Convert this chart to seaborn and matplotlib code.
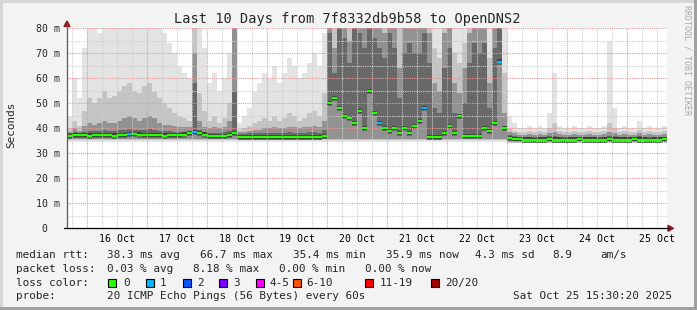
import numpy as np
import matplotlib
matplotlib.use("Agg")
import matplotlib.pyplot as plt
from matplotlib.patches import Rectangle, Polygon
from matplotlib.lines import Line2D
import seaborn as sns

W, H = 697, 310

# ---------------- data (2-hour bins, 10 days = 120 bins) ----------------
bin_hours = 2.0

median_ms = [
    37.0, 37.2, 37.3, 37.2, 37.1, 37.2, 37.3, 37.4, 37.2, 37.1,
    37.3, 37.2, 37.6, 37.8, 37.5, 37.3, 37.2, 37.4, 37.2, 37.1,
    37.3, 37.2, 37.4, 37.5, 38.0, 38.5, 38.0, 37.5, 37.0, 36.8,
    36.9, 37.0, 37.2, 38.2, 36.6, 36.5, 36.6, 36.5, 36.6, 36.5,
    36.6, 36.5, 36.6, 36.5, 36.6, 36.6, 36.5, 36.6, 36.5, 36.6,
    36.5, 37.0, 50.0, 52.0, 48.0, 45.0, 44.0, 42.0, 47.0, 40.0,
    55.0, 46.0, 42.0, 40.0, 39.0, 40.0, 38.0, 40.0, 38.0, 41.0,
    43.0, 48.0, 36.5, 36.4, 36.5, 38.0, 41.0, 38.0, 45.0, 37.0,
    36.9, 36.9, 37.0, 40.0, 39.0, 42.0, 66.7, 40.0, 36.2, 35.8,
    35.6, 35.5, 35.5, 35.4, 35.5, 35.5, 35.6, 35.5, 35.5, 35.4,
    35.5, 35.5, 35.6, 35.5, 35.5, 35.5, 35.4, 35.5, 35.6, 35.5,
    35.5, 35.5, 35.5, 35.6, 35.5, 35.5, 35.4, 35.5, 35.5, 35.6,
]

# lost pings (of 20) for each bin
loss_count = [
    0, 0, 0, 0, 0, 0, 0, 0, 0, 0,
    0, 0, 1, 0, 0, 0, 0, 0, 0, 0,
    0, 0, 0, 0, 0, 1, 0, 0, 0, 0,
    0, 0, 0, 0, 0, 0, 0, 0, 0, 0,
    0, 0, 0, 0, 0, 0, 0, 0, 0, 0,
    0, 0, 0, 0, 0, 0, 0, 0, 0, 0,
    0, 0, 1, 0, 0, 0, 0, 0, 0, 0,
    0, 1, 0, 0, 0, 0, 0, 0, 0, 0,
    0, 0, 0, 0, 0, 0, 1, 0, 0, 0,
    0, 0, 0, 0, 0, 0, 0, 0, 0, 0,
    0, 0, 0, 0, 0, 0, 0, 0, 0, 0,
    0, 0, 0, 0, 0, 0, 0, 0, 0, 0,
]

smoke_max = [
    45, 60, 52, 72, 80, 80, 78, 80, 80, 80,
    80, 80, 80, 80, 80, 80, 80, 80, 80, 78,
    74, 70, 65, 62, 60, 80, 80, 72, 58, 62,
    55, 60, 70, 80, 42, 45, 48, 55, 58, 62,
    60, 65, 58, 62, 68, 65, 60, 62, 66, 70,
    65, 78, 80, 80, 80, 80, 80, 80, 80, 80,
    80, 80, 80, 80, 80, 80, 80, 80, 80, 80,
    80, 80, 80, 80, 80, 80, 80, 80, 80, 80,
    80, 80, 80, 80, 80, 80, 80, 80, 45, 42,
    40, 40, 41, 40, 41, 40, 46, 62, 41, 40,
    40, 41, 40, 40, 41, 40, 40, 41, 75, 48,
    40, 41, 40, 40, 43, 40, 41, 40, 40, 41,
]

smoke_p90 = [
    40, 43, 41, 47, 52, 50, 52, 55, 52, 53,
    55, 57, 58, 55, 54, 57, 58, 55, 52, 50,
    48, 46, 45, 44, 43, 80, 54, 47, 43, 45,
    42, 44, 50, 80, 39.5, 40, 41, 42, 43, 44,
    43, 45, 43, 44, 46, 45, 43, 44, 46, 47,
    45, 54, 80, 80, 80, 80, 80, 80, 80, 80,
    80, 80, 80, 80, 80, 80, 80, 80, 80, 80,
    80, 80, 80, 72, 68, 80, 80, 70, 66, 74,
    80, 80, 80, 80, 68, 80, 80, 62, 40, 39,
    38.5, 38.5, 39, 38.5, 39, 38.5, 40, 42, 39, 38.5,
    38.5, 39, 38.5, 38.5, 39, 38.5, 38.5, 39, 42, 40,
    38.5, 39, 38.5, 38.5, 39.5, 38.5, 39, 38.5, 38.5, 39,
]

smoke_p75 = [
    38.5, 40, 39, 41, 42, 41.5, 42, 43, 42, 42,
    43, 44, 45, 44, 43, 44, 45, 44, 42, 41.5,
    41.5, 41, 40.5, 40.5, 40.5, 70, 43, 40.5, 40, 40.5,
    40, 40.5, 43, 80, 38.5, 38.5, 39, 39.5, 39.5, 40,
    40, 40.5, 40, 40, 40.5, 40.5, 40, 40.5, 40.5, 41,
    40.5, 43, 80, 72, 80, 80, 75, 80, 80, 80,
    80, 80, 80, 78, 80, 80, 64, 80, 80, 80,
    80, 80, 78, 58, 55, 78, 80, 58, 54, 64,
    78, 80, 80, 80, 58, 80, 80, 46, 38.5, 38,
    37.5, 37.5, 37.8, 37.5, 37.8, 37.5, 38, 38.5, 37.8, 37.5,
    37.5, 37.8, 37.5, 37.5, 37.8, 37.5, 37.5, 37.8, 38.5, 38,
    37.5, 37.8, 37.5, 37.5, 38, 37.5, 37.8, 37.5, 37.5, 37.8,
]

smoke_p60 = [
    38, 38.5, 38.2, 38.6, 39, 38.8, 39, 39.2, 39, 39,
    39.2, 39.4, 39.6, 39.4, 39.2, 39.4, 39.6, 39.4, 39, 38.8,
    38.8, 38.6, 38.6, 38.5, 39, 58, 39.5, 38.6, 38.3, 38.3,
    38.3, 38.5, 39, 55, 37.8, 37.8, 38, 38, 38.2, 38.2,
    38.2, 38.3, 38.2, 38.2, 38.4, 38.3, 38.2, 38.3, 38.4, 38.4,
    38.3, 39.5, 78, 62, 80, 76, 66, 80, 78, 72,
    80, 76, 72, 68, 78, 72, 52, 70, 74, 70,
    70, 78, 66, 48, 46, 64, 72, 46, 44, 50,
    66, 74, 70, 74, 48, 72, 80, 41, 37.3, 37,
    36.6, 36.6, 36.7, 36.6, 36.7, 36.6, 36.8, 37, 36.7, 36.6,
    36.6, 36.7, 36.6, 36.6, 36.7, 36.6, 36.6, 36.7, 37, 36.8,
    36.6, 36.7, 36.6, 36.6, 36.8, 36.6, 36.7, 36.6, 36.6, 36.7,
]

smoke_min = [35.0] * 88 + [34.0] * 32

day_labels = ["16 Oct", "17 Oct", "18 Oct", "19 Oct", "20 Oct",
              "21 Oct", "22 Oct", "23 Oct", "24 Oct", "25 Oct"]
day_noon_hours = [20, 44, 68, 92, 116, 140, 164, 188, 212, 236]
midnight_hours = [8, 32, 56, 80, 104, 128, 152, 176, 200, 224]
y_ticks = [0, 10, 20, 30, 40, 50, 60, 70, 80]
y_tick_labels = ["0  ", "10 m", "20 m", "30 m", "40 m", "50 m", "60 m", "70 m", "80 m"]

loss_names = ["0", "1", "2", "3", "4-5", "6-10", "11-19", "20/20"]
loss_colors = ["#26ff00", "#00b8ff", "#0059ff", "#7e00ff", "#ff00ff",
               "#ff5500", "#ff0000", "#a10000"]

title = "Last 10 Days from 7f8332db9b58 to OpenDNS2"
stats_rtt = ["median rtt:", "38.3 ms avg", "66.7 ms max", "35.4 ms min",
             "35.9 ms now", "4.3 ms sd", "8.9", "am/s"]
stats_loss = ["packet loss:", "0.03 % avg", "8.18 % max", "0.00 % min", "0.00 % now"]
probe_text = ["probe:", "20 ICMP Echo Pings (56 Bytes) every 60s", "Sat Oct 25 15:30:20 2025"]

# ---------------- style ----------------
sns.set_style("white")
plt.rcParams["font.family"] = ["DejaVu Sans Mono"]
MONO = "DejaVu Sans Mono"

fig = plt.figure(figsize=(W / 100, H / 100), dpi=100)
fig.patch.set_facecolor("#f3f3f3")

AX_L, AX_R, AX_T, AX_B = 67, 667, 28.3, 228.3
ax = fig.add_axes([AX_L / W, 1 - AX_B / H, (AX_R - AX_L) / W, (AX_B - AX_T) / H])
ax.set_facecolor("white")

n = len(median_ms)
edges = np.arange(n + 1) * bin_hours
centers = (np.arange(n) + 0.5) * bin_hours


def ext(v):
    v = np.asarray(v, dtype=float)
    return np.append(v, v[-1])


med = np.asarray(median_ms, dtype=float)
lo = np.asarray(smoke_min, dtype=float)

layers = [
    (ext(lo), ext(smoke_max), "#e3e3e3"),
    (ext(lo + 0.3), ext(smoke_p90), "#c4c4c4"),
    (ext(lo + 0.6), ext(smoke_p75), "#929292"),
    (ext(med - 1.2), ext(smoke_p60), "#686868"),
    (ext(med - 0.7), ext(med + 0.9), "#3c3c3c"),
]
for y0, y1, c in layers:
    ax.fill_between(edges, y0, np.minimum(y1, 80), step="post", color=c,
                    linewidth=0, zorder=1)

# grid (drawn on top of smoke, like rrdtool)
for h in np.arange(2, 240, 6):
    if h in midnight_hours:
        continue
    ax.axvline(h, color="#cfcfcf", lw=0.8, ls=(0, (1, 1)), zorder=3)
for v in range(5, 80, 10):
    ax.axhline(v, color="#cfcfcf", lw=0.8, ls=(0, (1, 1)), zorder=3)
for h in midnight_hours:
    ax.axvline(h, color="#e59a9a", lw=0.8, ls=(0, (1, 1)), zorder=3.1)
for v in y_ticks[1:]:
    ax.axhline(v, color="#e59a9a", lw=0.8, ls=(0, (1, 1)), zorder=3.1)

# median rtt, coloured by loss
loss_lbl = [loss_names[1] if c == 1 else loss_names[0] for c in loss_count]
pal = {loss_names[0]: loss_colors[0], loss_names[1]: loss_colors[1]}
sns.scatterplot(x=centers, y=med, hue=loss_lbl, palette=pal, marker="_",
                s=16, linewidth=1.6, legend=False, ax=ax, zorder=5)

ax.set_xlim(0, 240)
ax.set_ylim(0, 80)
for s in ax.spines.values():
    s.set_visible(False)

ax.set_xticks(day_noon_hours)
ax.set_xticklabels(day_labels)
ax.set_xticks(midnight_hours, minor=True)
ax.tick_params(axis="x", which="major", length=0, pad=4.2, labelsize=7.1, colors="black")
ax.tick_params(axis="x", which="minor", length=2, color="#e59a9a", direction="out")
ax.set_yticks(y_ticks)
ax.set_yticklabels(y_tick_labels)
ax.tick_params(axis="y", which="major", length=2, color="#e59a9a", pad=3.0,
               labelsize=7.1, direction="out")
for t in ax.get_xticklabels() + ax.get_yticklabels():
    t.set_fontfamily(MONO)


def fx(x):
    return x / W


def fy(y):
    return 1 - y / H


# axis lines with arrows
fig.add_artist(Line2D([fx(67), fx(67)], [fy(228.3), fy(24)], color="#5a5a5a", lw=0.9))
fig.add_artist(Line2D([fx(64), fx(669)], [fy(228.3), fy(228.3)], color="black", lw=0.9))
fig.add_artist(Polygon([(fx(67), fy(21)), (fx(64), fy(26.5)), (fx(70), fy(26.5))],
                       closed=True, color="#8b1a1a", transform=fig.transFigure))
fig.add_artist(Polygon([(fx(673.5), fy(228.3)), (fx(668), fy(225.3)), (fx(668), fy(231.3))],
                       closed=True, color="#8b1a1a", transform=fig.transFigure))

# frame of the image
for (x, y, w, h, c) in [(0, 0, W, 2.5, "#d6d6d6"), (0, 0, 2.5, H, "#d6d6d6"),
                        (W - 3, 0, 3, H, "#a0a0a0"), (0, H - 3, W, 3, "#a0a0a0")]:
    fig.add_artist(Rectangle((fx(x), fy(y + h)), w / W, h / H, transform=fig.transFigure,
                             color=c, lw=0))

# titles
fig.text(fx(347.5), fy(23.5), title, ha="center", va="baseline", fontsize=9.8, family=MONO)
fig.text(fx(11), fy(125), "Seconds", rotation=90, ha="center", va="center",
         fontsize=7.9, family=MONO)
fig.text(fx(686.5), fy(60), "RRDTOOL / TOBI OETIKER", rotation=270, ha="center",
         va="center", fontsize=6.0, family=MONO, color="#a8a8a8")

# legend / stats lines
FS = 7.9
for s, x in zip(stats_rtt, [16, 107, 200, 293, 386, 475, 552, 600]):
    fig.text(fx(x), fy(258), s, ha="left", va="baseline", fontsize=FS, family=MONO)
for s, x in zip(stats_loss, [16, 107, 193, 279, 365]):
    fig.text(fx(x), fy(271.8), s, ha="left", va="baseline", fontsize=FS, family=MONO)
fig.text(fx(16), fy(285.6), "loss color:", ha="left", va="baseline", fontsize=FS, family=MONO)
box_x = [108.3, 145.7, 182.7, 219.3, 256, 292.7, 365, 430.7]
lab_x = [123.3, 160, 196.7, 233.3, 270, 306.7, 380, 445]
for name, col, bx, lx in zip(loss_names, loss_colors, box_x, lab_x):
    fig.add_artist(Rectangle((fx(bx), fy(286.7)), 8 / W, 8 / H, transform=fig.transFigure,
                             facecolor=col, edgecolor="black", lw=0.8))
    fig.text(fx(lx), fy(285.6), name, ha="left", va="baseline", fontsize=FS, family=MONO)
for s, x in zip(probe_text, [16, 107, 513]):
    fig.text(fx(x), fy(299.4), s, ha="left", va="baseline", fontsize=FS, family=MONO)

fig.savefig("out.png", dpi=100, facecolor=fig.get_facecolor())
